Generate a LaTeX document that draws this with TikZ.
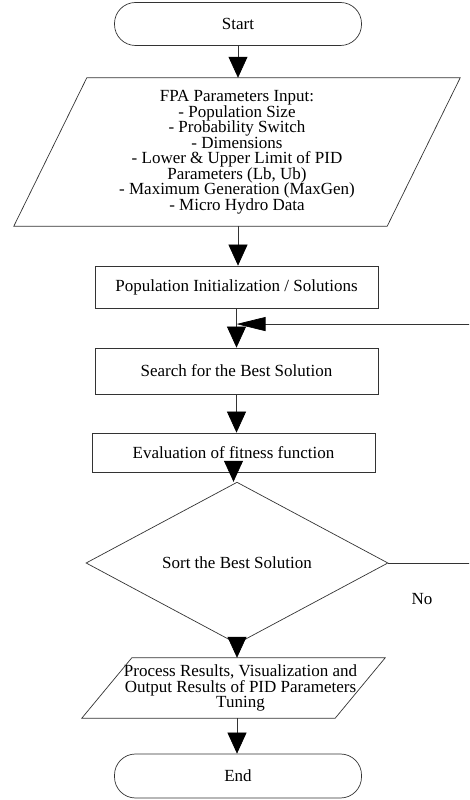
\documentclass[tikz,border=0pt]{standalone}
\usepackage{fontspec}
\setmainfont{Liberation Serif}
\usetikzlibrary{arrows.meta,calc,shapes.geometric}

\tikzset{
	flow/.style={draw=black!80, line width=0.7pt},
	term/.style={flow, rectangle, rounded corners=21pt, minimum width=247pt, minimum height=43pt},
	proc/.style={flow, rectangle, minimum width=283pt},
	inout/.style={rectangle, align=center, inner sep=0pt},
	decide/.style={flow, diamond, minimum width=302pt, minimum height=113pt, inner sep=0pt},
	conn/.style={flow, -{Triangle[length=21pt,width=19pt,color=black]}},
	back/.style={flow, -{Triangle[length=29pt,width=14pt,color=black]}},
}

\begin{document}
\begin{tikzpicture}[x=1pt, y=1pt, font=\fontsize{17pt}{15.5pt}\selectfont]
		%%%%% START %%%%%
		\useasboundingbox (0, 0) rectangle (469, 800);
		\clip (0, 0) rectangle (469, 800);
		
		\node[term] (start) at (238, 776) {Start};
		
		\node[inout, minimum width=446pt, minimum height=148pt] (inp) at (237, 648)
			{FPA Parameters Input:\\- Population Size\\- Probability Switch\\- Dimensions\\- Lower \& Upper Limit of PID\\Parameters (Lb, Ub)\\- Maximum Generation (MaxGen)\\- Micro Hydro Data};
		\draw[flow] (inp.south west) -- ($(inp.north west)+(73, 0)$) -- (inp.north east) -- ($(inp.south east)+(-73, 0)$) -- cycle;
		
		\node[proc, minimum height=42pt] (init) at (236.5, 513) {Population Initialization / Solutions};
		\node[proc, minimum height=46pt] (search) at (236.5, 429) {Search for the Best Solution};
		\node[proc, minimum height=39pt] (eval) at (233.5, 347.5) {Evaluation of fitness function};
		
		\node[decide] (sort) at (237, 237) {Sort the Best Solution};
		\node (no) at (422, 201) {No};
		
		\node[inout, minimum width=303pt, minimum height=60pt] (out) at (233.5, 112)
			{\hspace*{14pt}Process Results, Visualization and\\\hspace*{14pt}Output Results of PID Parameters\\\hspace*{14pt}Tuning};
		\draw[flow] (out.south west) -- ($(out.north west)+(50, 0)$) -- (out.north east) -- ($(out.south east)+(-50, 0)$) -- cycle;
		
		\node[term, minimum height=44pt] (end) at (238, 24) {End};
		
		% main line
		\draw[conn] (start.south) -- (start.south |- inp.north);
		\draw[conn] (start.south |- inp.south) -- (start.south |- init.north);
		\draw[conn] (init.south) -- (init.south |- search.north);
		\draw[conn] (search.south) -- (search.south |- eval.north);
		\draw[conn] (eval.south) -- (eval.south |- sort.north);
		\draw[conn] (sort.south) -- (sort.south |- out.north);
		\draw[conn] (sort.south |- out.south) -- (sort.south |- end.north);
		
		% loop back (No)
		\coordinate (join) at ($(init.south)!0.4!(init.south |- search.north)$);
		\draw[back] (sort.east) -- ++(88, 0) |- (join);
		
		%%%%% END %%%%%
	\end{tikzpicture}
\end{document}
